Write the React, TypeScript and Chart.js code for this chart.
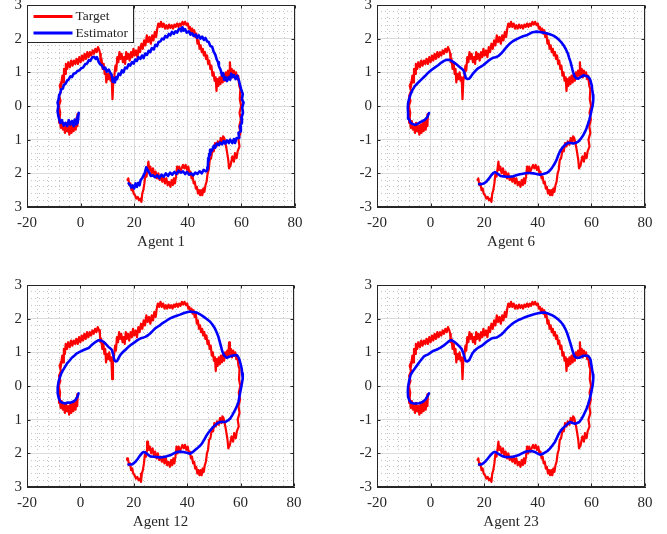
import React, { useEffect, useRef } from "react";
import { Chart, registerables } from "chart.js";

Chart.register(...registerables);

// ---------- axis settings ----------
const X_MIN = -20;
const X_MAX = 80;
const Y_MIN = -3;
const Y_MAX = 3;
const X_MAJOR_STEP = 20;
const X_MINOR_STEP = 4;
const Y_MAJOR_STEP = 1;
const Y_MINOR_STEP = 0.2;

const seriesLabels = ["Target", "Estimator"];
const panelTitles = ["Agent 1", "Agent 6", "Agent 12", "Agent 23"];

// ---------- data ----------
const targetPath: [number, number][] = [
  [-1.0, -0.25], [-1.2, -0.6], [-1.5, -0.35], [-1.8, -0.7], [-2.2, -0.45], [-2.6, -0.75], [-3.0, -0.5], [-3.4, -0.8],
  [-3.8, -0.55], [-4.2, -0.85], [-4.6, -0.6], [-5.0, -0.75], [-5.4, -0.5], [-5.8, -0.8], [-6.2, -0.55], [-6.6, -0.7],
  [-7.0, -0.45], [-7.4, -0.65], [-7.8, -0.35], [-8.0, -0.5], [-7.6, -0.2], [-8.1, 0.0], [-7.5, 0.15], [-8.0, 0.3],
  [-7.3, 0.45], [-7.8, 0.6], [-7.0, 0.75], [-7.4, 0.55], [-6.8, 0.9], [-6.5, 0.7], [-6.2, 1.1], [-5.8, 0.95],
  [-5.5, 1.25], [-5.0, 1.1], [-4.6, 1.3], [-4.0, 1.15], [-3.5, 1.35], [-3.0, 1.2], [-2.5, 1.35], [-2.0, 1.25],
  [-1.5, 1.4], [-1.0, 1.25], [-0.5, 1.45], [0.0, 1.3], [0.5, 1.5], [1.0, 1.35], [1.5, 1.55], [2.0, 1.4],
  [2.5, 1.6], [3.0, 1.45], [3.5, 1.6], [4.0, 1.5], [4.5, 1.65], [5.0, 1.55], [5.5, 1.7], [6.0, 1.6],
  [6.5, 1.75], [7.0, 1.65], [7.3, 1.55], [7.5, 1.3], [7.8, 1.4], [8.2, 1.1], [8.6, 1.25], [9.0, 0.95],
  [9.3, 1.1], [9.6, 0.7], [10.0, 0.95], [10.4, 0.8], [10.8, 1.0], [11.2, 0.75], [11.6, 0.85], [11.9, 0.2],
  [12.2, 0.75], [12.6, 0.9], [13.0, 1.2], [13.3, 1.05], [13.7, 1.45], [14.1, 1.3], [14.5, 1.6], [14.9, 1.4],
  [15.3, 1.55], [15.8, 1.3], [16.2, 1.45], [16.6, 1.25], [17.0, 1.6], [17.4, 1.4], [17.8, 1.55], [18.3, 1.35],
  [18.8, 1.6], [19.3, 1.45], [19.7, 1.7], [20.2, 1.5], [20.7, 1.65], [21.2, 1.45], [21.7, 1.75], [22.2, 1.6],
  [22.7, 1.85], [23.2, 1.7], [23.7, 1.95], [24.2, 1.8], [24.7, 2.1], [25.2, 1.9], [25.7, 2.05], [26.2, 1.85],
  [26.7, 2.1], [27.2, 1.95], [27.7, 2.2], [28.2, 2.05], [28.6, 2.3], [29.0, 2.45], [29.5, 2.35], [30.0, 2.5],
  [30.5, 2.35], [31.0, 2.45], [31.5, 2.3], [32.0, 2.4], [32.5, 2.3], [33.0, 2.42], [33.5, 2.32], [34.0, 2.4],
  [34.5, 2.3], [35.0, 2.42], [35.5, 2.35], [36.0, 2.45], [36.5, 2.35], [37.0, 2.45], [37.5, 2.38], [38.0, 2.5],
  [38.5, 2.42], [39.0, 2.5], [39.5, 2.4], [40.0, 2.45], [40.4, 2.3], [40.8, 2.35], [41.2, 2.2], [41.6, 2.3],
  [42.0, 2.15], [42.4, 2.25], [42.8, 2.05], [43.2, 2.15], [43.6, 1.85], [44.0, 1.95], [44.4, 1.7], [44.8, 1.8],
  [45.2, 1.6], [45.6, 1.7], [46.0, 1.5], [46.4, 1.6], [46.8, 1.4], [47.2, 1.5], [47.6, 1.25], [48.0, 1.35],
  [48.4, 1.1], [48.8, 1.2], [49.2, 0.9], [49.6, 1.0], [50.0, 0.75], [50.4, 0.85], [50.7, 0.45], [51.0, 0.8],
  [51.4, 0.6], [51.8, 0.85], [52.2, 0.65], [52.6, 0.9], [53.0, 0.7], [53.4, 0.95], [53.8, 0.75], [54.2, 1.0],
  [54.6, 0.85], [55.0, 1.05], [55.4, 0.9], [55.7, 1.3], [56.0, 0.95], [56.4, 1.1], [56.8, 0.85], [57.2, 1.05],
  [57.6, 0.9], [58.0, 1.0], [58.4, 0.8], [58.8, 0.9], [59.2, 0.6], [59.6, 0.5], [59.4, 0.2], [59.9, 0.0],
  [59.3, -0.2], [59.8, -0.4], [59.2, -0.6], [59.6, -0.8], [58.9, -1.0], [59.3, -1.2], [58.6, -1.35], [58.2, -1.55],
  [57.6, -1.4], [57.2, -1.65], [56.6, -1.5], [56.0, -1.75], [55.4, -1.85], [55.1, -1.6], [54.7, -1.4], [54.4, -1.25],
  [54.0, -1.1], [53.6, -0.95], [53.2, -0.9], [52.8, -1.1], [52.3, -0.95], [51.8, -1.15], [51.2, -1.05], [50.7, -1.2],
  [50.2, -1.1], [49.7, -1.35], [49.2, -1.3], [48.7, -1.55], [48.2, -1.6], [47.8, -1.9], [47.4, -2.0], [47.0, -2.25],
  [46.6, -2.35], [46.2, -2.55], [45.8, -2.45], [45.4, -2.65], [45.0, -2.5], [44.6, -2.65], [44.2, -2.5], [43.8, -2.6],
  [43.4, -2.4], [43.0, -2.45], [42.6, -2.25], [42.2, -2.3], [41.8, -2.1], [41.4, -2.15], [41.0, -1.95], [40.6, -2.0],
  [40.2, -1.8], [39.7, -1.9], [39.2, -1.75], [38.7, -1.85], [38.2, -1.75], [37.7, -1.85], [37.2, -1.95], [36.8, -1.8],
  [36.4, -2.0], [36.0, -1.8], [35.6, -2.1], [35.2, -2.3], [34.8, -2.15], [34.4, -2.35], [34.0, -2.2], [33.5, -2.4],
  [33.0, -2.25], [32.5, -2.35], [32.0, -2.15], [31.5, -2.3], [31.0, -2.1], [30.5, -2.25], [30.0, -2.1], [29.5, -2.2],
  [29.0, -2.0], [28.5, -2.15], [28.0, -1.95], [27.5, -2.05], [27.0, -1.85], [26.5, -2.0], [26.0, -1.8], [25.6, -1.9],
  [25.3, -1.65], [25.0, -1.85], [24.6, -2.1], [24.2, -2.0], [23.8, -2.3], [23.4, -2.5], [23.0, -2.6], [22.7, -2.85],
  [22.3, -2.75], [21.8, -2.8], [21.3, -2.7], [20.8, -2.75], [20.3, -2.65], [19.8, -2.6], [19.4, -2.45], [19.0, -2.5],
  [18.6, -2.3], [18.2, -2.35], [17.8, -2.15], [17.5, -2.2],
];

const estimatorAgent1: [number, number][] = [
  [-0.7, -0.2], [-1.0, -0.45], [-0.8, -0.25], [-1.3, -0.5], [-1.1, -0.3], [-1.6, -0.55], [-2.2, -0.4], [-2.6, -0.6],
  [-3.2, -0.45], [-3.8, -0.55], [-4.4, -0.42], [-5.0, -0.6], [-5.7, -0.5], [-6.3, -0.58], [-7.0, -0.42], [-7.6, -0.5],
  [-8.3, -0.3], [-8.6, -0.15], [-8.3, 0.0], [-8.6, 0.1], [-8.2, 0.2], [-8.0, 0.32], [-7.6, 0.38], [-7.2, 0.5],
  [-6.6, 0.52], [-6.3, 0.62], [-5.6, 0.66], [-5.0, 0.76], [-4.5, 0.78], [-3.8, 0.88], [-3.2, 0.86], [-2.6, 0.96],
  [-1.8, 0.98], [-1.2, 1.04], [-0.4, 1.06], [0.2, 1.12], [0.9, 1.14], [1.7, 1.24], [2.4, 1.26], [3.1, 1.36],
  [3.6, 1.34], [4.3, 1.44], [5.1, 1.46], [5.6, 1.4], [6.1, 1.45], [6.8, 1.3], [7.3, 1.24], [8.0, 1.2],
  [8.6, 1.1], [9.2, 1.14], [9.8, 1.02], [10.5, 1.08], [11.1, 0.98], [11.6, 0.92], [12.0, 0.72], [12.3, 0.82],
  [12.8, 0.7], [13.2, 0.86], [13.6, 0.8], [14.2, 0.96], [14.8, 0.92], [15.4, 1.06], [16.0, 1.0], [16.6, 1.14],
  [17.3, 1.12], [17.9, 1.24], [18.5, 1.2], [19.2, 1.3], [19.8, 1.26], [20.4, 1.38], [21.0, 1.34], [21.6, 1.45],
  [22.3, 1.4], [22.9, 1.5], [23.5, 1.42], [24.1, 1.56], [24.8, 1.52], [25.4, 1.64], [26.0, 1.6], [26.6, 1.72],
  [27.3, 1.68], [27.9, 1.82], [28.5, 1.78], [29.1, 1.9], [29.8, 1.92], [30.4, 2.0], [31.0, 1.98], [31.6, 2.08],
  [32.3, 2.04], [32.9, 2.14], [33.5, 2.1], [34.1, 2.2], [34.8, 2.14], [35.4, 2.22], [36.0, 2.18], [36.6, 2.28],
  [37.2, 2.3], [37.6, 2.22], [38.0, 2.34], [38.5, 2.24], [39.0, 2.28], [39.6, 2.18], [40.4, 2.22], [41.0, 2.12],
  [41.6, 2.16], [42.2, 2.08], [42.9, 2.12], [43.5, 2.02], [44.1, 2.1], [44.7, 2.0], [45.4, 2.06], [46.0, 1.96],
  [46.6, 2.02], [47.2, 1.92], [47.8, 1.9], [48.4, 1.78], [49.1, 1.76], [49.6, 1.62], [50.3, 1.52], [50.8, 1.38],
  [51.3, 1.3], [51.6, 1.18], [52.2, 1.08], [52.8, 0.9], [53.2, 0.98], [53.6, 0.78], [54.1, 0.86], [54.6, 0.74],
  [55.3, 0.86], [55.8, 0.78], [56.2, 0.96], [56.6, 0.86], [57.2, 0.92], [57.8, 0.8], [58.4, 0.9], [59.1, 0.75],
  [59.5, 0.62], [59.9, 0.5], [60.5, 0.35], [60.2, 0.2], [60.8, 0.1], [60.3, -0.05], [60.6, -0.2], [60.0, -0.35],
  [60.2, -0.5], [59.5, -0.6], [59.8, -0.75], [58.9, -0.8], [59.2, -0.95], [58.2, -0.95], [57.6, -1.1], [57.2, -0.98],
  [56.6, -1.1], [55.8, -1.0], [55.3, -1.1], [54.6, -1.02], [54.0, -1.12], [53.4, -1.04], [52.8, -1.14], [52.0, -1.08],
  [51.6, -1.16], [50.8, -1.12], [50.2, -1.24], [49.7, -1.18], [49.1, -1.32], [48.6, -1.3], [48.3, -1.46], [48.0, -1.42],
  [47.8, -1.62], [47.6, -1.55], [47.5, -1.82], [47.3, -1.9], [46.8, -1.94], [45.9, -1.9], [45.2, -2.0], [44.4, -1.94],
  [43.6, -2.02], [42.8, -1.98], [42.0, -2.06], [41.3, -2.0], [40.5, -2.04], [39.7, -1.96], [39.0, -2.02], [38.2, -1.94],
  [37.4, -1.98], [36.6, -1.92], [35.8, -2.02], [35.0, -1.96], [34.2, -2.04], [33.4, -1.98], [32.6, -2.08], [31.8, -2.0],
  [31.0, -2.1], [30.2, -2.04], [29.4, -2.14], [28.6, -2.06], [27.8, -2.12], [27.0, -2.06], [26.2, -2.08], [25.6, -1.98],
  [25.0, -1.9], [24.5, -1.82], [24.0, -1.98], [23.5, -2.06], [23.0, -2.14], [22.4, -2.2], [22.0, -2.35], [21.5, -2.28],
  [21.0, -2.4], [20.5, -2.3], [20.0, -2.45], [19.4, -2.36], [18.9, -2.42], [18.4, -2.34], [17.9, -2.3],
];

const estimatorAgent6: [number, number][] = [
  [-0.6, -0.21], [-1.2, -0.33], [-2.2, -0.41], [-3.1, -0.45], [-4.1, -0.49], [-5.0, -0.54], [-5.9, -0.56], [-6.8, -0.53],
  [-7.5, -0.49], [-8.1, -0.38], [-8.4, -0.21], [-8.5, -0.06], [-8.4, 0.09], [-8.0, 0.22], [-7.5, 0.34], [-6.8, 0.47],
  [-5.9, 0.59], [-4.7, 0.69], [-3.4, 0.79], [-2.1, 0.89], [-0.9, 0.99], [0.3, 1.07], [1.5, 1.14], [2.8, 1.21],
  [4.0, 1.29], [5.0, 1.34], [5.9, 1.37], [6.9, 1.37], [7.8, 1.34], [8.8, 1.29], [9.6, 1.24], [10.4, 1.19],
  [11.1, 1.14], [11.9, 1.09], [12.4, 1.04], [12.8, 0.94], [13.1, 0.84], [13.7, 0.8], [14.4, 0.81], [15.1, 0.88],
  [15.9, 0.97], [16.8, 1.05], [17.7, 1.12], [18.6, 1.16], [19.6, 1.21], [20.6, 1.28], [21.5, 1.34], [22.4, 1.39],
  [23.3, 1.43], [24.3, 1.45], [25.2, 1.48], [26.2, 1.55], [27.1, 1.63], [28.0, 1.72], [28.9, 1.8], [29.8, 1.87],
  [30.8, 1.93], [32.0, 1.98], [33.3, 2.03], [34.5, 2.07], [35.8, 2.1], [36.8, 2.14], [37.7, 2.18], [38.6, 2.2],
  [39.5, 2.21], [40.8, 2.2], [42.0, 2.18], [43.3, 2.16], [44.5, 2.13], [45.8, 2.09], [47.0, 2.03], [48.0, 1.96],
  [48.9, 1.88], [49.8, 1.78], [50.5, 1.68], [51.2, 1.56], [51.7, 1.43], [52.2, 1.31], [52.6, 1.19], [52.9, 1.09],
  [53.2, 1.0], [53.8, 0.87], [54.4, 0.82], [55.1, 0.81], [56.0, 0.86], [57.0, 0.91], [58.0, 0.89], [58.8, 0.87],
  [59.3, 0.82], [59.7, 0.74], [60.1, 0.62], [60.3, 0.49], [60.6, 0.33], [60.7, 0.18], [60.5, 0.03], [60.1, -0.11],
  [59.7, -0.26], [59.2, -0.41], [58.7, -0.54], [58.2, -0.66], [57.6, -0.77], [57.0, -0.86], [56.1, -0.97], [55.1, -1.06],
  [54.1, -1.1], [53.2, -1.11], [52.3, -1.1], [51.4, -1.09], [50.4, -1.14], [49.5, -1.21], [48.8, -1.28], [48.2, -1.36],
  [47.6, -1.47], [47.0, -1.6], [46.1, -1.74], [45.1, -1.86], [44.2, -1.94], [43.3, -1.99], [42.0, -2.02], [40.8, -2.04],
  [39.5, -2.02], [38.3, -2.0], [37.0, -1.99], [35.8, -1.99], [34.5, -2.01], [33.3, -2.03], [32.0, -2.06], [30.8, -2.09],
  [29.5, -2.1], [28.3, -2.1], [27.2, -2.09], [26.1, -2.08], [25.3, -2.03], [24.6, -1.99], [24.0, -1.96], [23.4, -1.99],
  [22.7, -2.05], [21.8, -2.15], [20.8, -2.25], [19.9, -2.3], [19.0, -2.32], [18.1, -2.32],
];

const estimatorAgent12: [number, number][] = [
  [-0.7, -0.22], [-1.1, -0.32], [-1.9, -0.42], [-2.8, -0.47], [-3.8, -0.5], [-4.7, -0.49], [-5.7, -0.52], [-6.6, -0.5],
  [-7.5, -0.47], [-8.1, -0.36], [-8.5, -0.22], [-8.5, -0.04], [-8.2, 0.12], [-7.7, 0.26], [-6.9, 0.42], [-6.0, 0.54],
  [-5.0, 0.67], [-4.1, 0.75], [-3.2, 0.84], [-2.3, 0.9], [-1.3, 0.97], [-0.1, 1.02], [1.2, 1.07], [2.1, 1.1],
  [3.1, 1.13], [4.0, 1.2], [4.9, 1.26], [5.9, 1.32], [6.8, 1.36], [7.8, 1.35], [8.7, 1.31], [9.6, 1.24],
  [10.5, 1.16], [11.2, 1.12], [11.8, 1.07], [12.3, 0.92], [12.7, 0.77], [13.2, 0.73], [13.7, 0.74], [14.3, 0.83],
  [14.9, 0.92], [15.8, 1.0], [16.8, 1.07], [17.7, 1.14], [18.7, 1.21], [19.6, 1.26], [20.5, 1.31], [21.5, 1.37],
  [22.4, 1.41], [23.3, 1.43], [24.3, 1.46], [25.2, 1.5], [26.1, 1.56], [27.0, 1.63], [28.0, 1.71], [28.9, 1.76],
  [29.9, 1.81], [30.8, 1.87], [31.7, 1.91], [32.6, 1.96], [33.6, 2.01], [34.8, 2.05], [36.1, 2.09], [37.3, 2.12],
  [38.6, 2.16], [39.8, 2.19], [41.1, 2.21], [42.3, 2.2], [43.6, 2.18], [44.8, 2.13], [46.1, 2.06], [47.3, 1.99],
  [48.6, 1.91], [49.5, 1.82], [50.4, 1.71], [51.1, 1.58], [51.7, 1.46], [52.2, 1.31], [52.7, 1.16], [53.1, 1.04],
  [53.6, 0.94], [54.2, 0.88], [54.8, 0.84], [55.7, 0.87], [56.7, 0.9], [57.6, 0.91], [58.6, 0.92], [59.2, 0.85],
  [59.6, 0.77], [60.0, 0.65], [60.4, 0.52], [60.6, 0.37], [60.8, 0.22], [60.4, 0.04], [60.0, -0.13], [59.6, -0.3],
  [59.2, -0.47], [58.6, -0.6], [57.9, -0.72], [57.0, -0.85], [56.1, -0.97], [55.1, -1.03], [54.2, -1.07], [53.2, -1.06],
  [52.3, -1.07], [51.3, -1.11], [50.4, -1.17], [49.6, -1.23], [48.8, -1.3], [48.0, -1.38], [47.3, -1.46], [46.4, -1.59],
  [45.5, -1.71], [44.6, -1.79], [43.6, -1.86], [42.4, -1.94], [41.1, -2.01], [39.8, -1.98], [38.6, -1.96], [37.3, -1.95],
  [36.1, -1.96], [34.8, -2.01], [33.6, -2.06], [32.3, -2.09], [31.1, -2.11], [29.8, -2.12], [28.6, -2.11], [27.3, -2.1],
  [26.1, -2.09], [25.5, -2.05], [24.9, -2.01], [24.2, -1.97], [23.6, -1.96], [23.0, -2.0], [22.4, -2.06], [21.5, -2.16],
  [20.5, -2.26], [19.9, -2.3], [19.3, -2.33], [18.6, -2.33], [18.0, -2.33],
];

const estimatorAgent23: [number, number][] = [
  [-0.6, -0.22], [-1.2, -0.31], [-1.8, -0.39], [-2.6, -0.45], [-3.4, -0.49], [-4.3, -0.51], [-5.3, -0.52], [-6.3, -0.52],
  [-7.2, -0.5], [-7.9, -0.43], [-8.4, -0.32], [-8.5, -0.17], [-8.4, -0.02], [-8.0, 0.16], [-7.5, 0.32], [-6.8, 0.42],
  [-5.9, 0.52], [-5.0, 0.62], [-4.1, 0.72], [-3.3, 0.8], [-2.6, 0.87], [-1.8, 0.91], [-0.9, 0.94], [0.0, 0.99],
  [0.9, 1.04], [1.9, 1.07], [2.8, 1.1], [3.7, 1.14], [4.7, 1.19], [5.6, 1.25], [6.5, 1.31], [7.2, 1.35],
  [7.8, 1.36], [8.7, 1.32], [9.6, 1.26], [10.6, 1.19], [11.5, 1.11], [12.0, 1.02], [12.4, 0.92], [12.8, 0.82],
  [13.1, 0.74], [13.7, 0.73], [14.4, 0.77], [15.0, 0.87], [15.6, 0.97], [16.3, 1.04], [17.1, 1.1], [18.0, 1.15],
  [19.0, 1.19], [19.9, 1.25], [20.8, 1.31], [21.8, 1.36], [22.7, 1.41], [23.7, 1.43], [24.6, 1.44], [25.5, 1.48],
  [26.4, 1.53], [27.4, 1.61], [28.3, 1.69], [29.2, 1.76], [30.2, 1.83], [31.4, 1.9], [32.7, 1.96], [34.0, 2.0],
  [35.2, 2.04], [36.5, 2.08], [37.7, 2.11], [38.9, 2.14], [40.1, 2.16], [41.4, 2.18], [42.6, 2.18], [43.9, 2.15],
  [45.1, 2.11], [46.4, 2.05], [47.6, 1.98], [48.6, 1.9], [49.5, 1.81], [50.3, 1.69], [51.0, 1.56], [51.5, 1.44],
  [52.0, 1.31], [52.5, 1.18], [52.9, 1.06], [53.4, 0.95], [53.9, 0.86], [54.7, 0.84], [55.5, 0.84], [56.3, 0.87],
  [57.0, 0.9], [57.9, 0.9], [58.8, 0.89], [59.3, 0.84], [59.7, 0.77], [60.0, 0.62], [60.3, 0.47], [60.6, 0.34],
  [60.7, 0.22], [60.5, 0.04], [60.1, -0.13], [59.7, -0.28], [59.2, -0.43], [58.7, -0.56], [58.2, -0.68], [57.6, -0.78],
  [57.0, -0.88], [56.3, -0.98], [55.5, -1.07], [54.7, -1.1], [53.9, -1.12], [53.0, -1.1], [52.0, -1.07], [51.2, -1.12],
  [50.5, -1.17], [49.7, -1.23], [48.9, -1.29], [48.2, -1.37], [47.6, -1.46], [47.0, -1.56], [46.4, -1.66], [45.5, -1.76],
  [44.5, -1.86], [43.6, -1.93], [42.6, -1.98], [41.7, -2.02], [40.8, -2.04], [39.8, -2.0], [38.9, -1.96], [38.0, -1.94],
  [37.0, -1.93], [36.1, -1.94], [35.2, -1.96], [33.9, -2.01], [32.7, -2.06], [31.4, -2.09], [30.2, -2.11], [29.0, -2.11],
  [27.7, -2.11], [26.7, -2.08], [25.8, -2.04], [25.0, -2.0], [24.3, -1.96], [23.8, -1.96], [23.3, -1.98], [22.5, -2.04],
  [21.8, -2.11], [21.0, -2.19], [20.2, -2.26], [19.6, -2.3], [19.0, -2.33], [18.1, -2.33],
];

const estimatorSeries = [estimatorAgent1, estimatorAgent6, estimatorAgent12, estimatorAgent23];

// ---------- style ----------
const FONT_FAMILY = "'Liberation Serif', 'Times New Roman', serif";
const AXIS_COLOR = "#262626";
const TARGET_COLOR = "#ff0000";
const ESTIMATOR_COLOR = "#0000ff";

type Layout = {
  left: number;
  top: number;
  width: number;
  height: number;
  padTop: number;
  axisWidth: number;
  padRight: number;
  absLabels: boolean;
  legend: boolean;
};

const layouts: Layout[] = [
  { left: 0, top: 0, width: 320, height: 254, padTop: 5, axisWidth: 27, padRight: 25, absLabels: true, legend: true },
  { left: 340, top: 0, width: 327, height: 254, padTop: 5, axisWidth: 37, padRight: 22, absLabels: false, legend: false },
  { left: 0, top: 266, width: 320, height: 268, padTop: 19, axisWidth: 27, padRight: 26, absLabels: true, legend: false },
  { left: 340, top: 266, width: 327, height: 268, padTop: 19, axisWidth: 37, padRight: 22, absLabels: false, legend: false },
];

const isInt = (v: number) => Math.abs(v - Math.round(v)) < 1e-6;

const boxPlugin = {
  id: "matlabBox",
  afterDatasetsDraw(chart: any) {
    const { ctx, chartArea } = chart;
    const l = Math.round(chartArea.left) + 0.5;
    const r = Math.round(chartArea.right) - 0.5;
    const t = Math.round(chartArea.top) + 0.5;
    const b = Math.round(chartArea.bottom) - 0.5;
    ctx.save();
    ctx.strokeStyle = AXIS_COLOR;
    ctx.lineWidth = 1;
    ctx.strokeRect(l, t, r - l, b - t);
    const xs = chart.scales.x;
    const ys = chart.scales.y;
    ctx.beginPath();
    xs.ticks.forEach((tk: any) => {
      const p = Math.round(xs.getPixelForValue(tk.value)) + 0.5;
      ctx.moveTo(p, b);
      ctx.lineTo(p, b - 3);
      ctx.moveTo(p, t);
      ctx.lineTo(p, t + 3);
    });
    ys.ticks.forEach((tk: any) => {
      const p = Math.round(ys.getPixelForValue(tk.value)) + 0.5;
      ctx.moveTo(l, p);
      ctx.lineTo(l + 3, p);
      ctx.moveTo(r, p);
      ctx.lineTo(r - 3, p);
    });
    ctx.stroke();
    ctx.restore();
  },
};

const legendPlugin = {
  id: "matlabLegend",
  afterDraw(chart: any) {
    const opts = chart.options.plugins.matlabLegend;
    if (!opts || !opts.show) return;
    const { ctx, chartArea } = chart;
    const x0 = Math.round(chartArea.left) + 0.5;
    const y0 = Math.round(chartArea.top) + 0.5;
    const w = 106;
    const h = 37;
    ctx.save();
    ctx.fillStyle = "#ffffff";
    ctx.fillRect(x0, y0, w, h);
    ctx.strokeStyle = AXIS_COLOR;
    ctx.lineWidth = 1;
    ctx.strokeRect(x0, y0, w, h);
    ctx.font = `13.5px ${FONT_FAMILY}`;
    ctx.textBaseline = "middle";
    ctx.textAlign = "left";
    const order = [1, 0];
    order.forEach((dsIndex, i) => {
      const ds = chart.data.datasets[dsIndex];
      const yy = y0 + 11 + i * 16.5;
      ctx.strokeStyle = ds.borderColor;
      ctx.lineWidth = 3;
      ctx.beginPath();
      ctx.moveTo(x0 + 6, yy);
      ctx.lineTo(x0 + 45, yy);
      ctx.stroke();
      ctx.fillStyle = AXIS_COLOR;
      ctx.fillText(ds.label, x0 + 48, yy);
    });
    ctx.restore();
  },
};

function Panel({ index }: { index: number }) {
  const ref = useRef<HTMLCanvasElement | null>(null);
  const lay = layouts[index];

  useEffect(() => {
    if (!ref.current) return;
    const tickFont = { family: FONT_FAMILY, size: 15 };
    const chart = new Chart(ref.current, {
      type: "scatter",
      data: {
        datasets: [
          {
            label: seriesLabels[1],
            data: estimatorSeries[index].map(([x, y]) => ({ x, y })),
            borderColor: ESTIMATOR_COLOR,
            backgroundColor: ESTIMATOR_COLOR,
            borderWidth: 2.6,
            showLine: true,
            pointRadius: 0,
            tension: 0,
            borderJoinStyle: "round",
            borderCapStyle: "round",
            order: 0,
          },
          {
            label: seriesLabels[0],
            data: targetPath.map(([x, y]) => ({ x, y })),
            borderColor: TARGET_COLOR,
            backgroundColor: TARGET_COLOR,
            borderWidth: 2.2,
            showLine: true,
            pointRadius: 0,
            tension: 0,
            borderJoinStyle: "round",
            borderCapStyle: "round",
            order: 1,
          },
        ],
      },
      options: {
        animation: false,
        responsive: false,
        events: [],
        layout: { padding: { top: lay.padTop, right: lay.padRight, left: 0, bottom: 0 } },
        plugins: {
          legend: { display: false },
          tooltip: { enabled: false },
          // @ts-ignore
          matlabLegend: { show: lay.legend },
        },
        scales: {
          xMinor: {
            type: "linear",
            position: "bottom",
            min: X_MIN,
            max: X_MAX,
            z: -1,
            ticks: { display: false, stepSize: X_MINOR_STEP, autoSkip: false },
            grid: { color: "#c4c4c4", lineWidth: 1, drawTicks: false },
            border: { display: false, dash: [1, 3] },
            afterFit: (s: any) => {
              s.height = 0;
              s.paddingLeft = 0;
              s.paddingRight = 0;
            },
          },
          yMinor: {
            type: "linear",
            position: "left",
            min: Y_MIN,
            max: Y_MAX,
            z: -1,
            ticks: { display: false, stepSize: Y_MINOR_STEP, autoSkip: false },
            grid: { color: "#c4c4c4", lineWidth: 1, drawTicks: false },
            border: { display: false, dash: [1, 3] },
            afterFit: (s: any) => {
              s.width = 0;
              s.paddingTop = 0;
              s.paddingBottom = 0;
            },
          },
          x: {
            type: "linear",
            position: "bottom",
            min: X_MIN,
            max: X_MAX,
            ticks: {
              stepSize: X_MAJOR_STEP,
              autoSkip: false,
              maxRotation: 0,
              font: tickFont,
              color: AXIS_COLOR,
              padding: 7,
              callback: (v: any) => String(Math.round(Number(v))),
            },
            grid: { color: "#dcdcdc", lineWidth: 1, drawTicks: false },
            border: { color: AXIS_COLOR, width: 1 },
            title: {
              display: true,
              text: panelTitles[index],
              font: { family: FONT_FAMILY, size: 15 },
              color: AXIS_COLOR,
              padding: { top: 0, bottom: 3 },
            },
            afterFit: (s: any) => {
              s.height = 47;
              s.paddingLeft = 0;
              s.paddingRight = 0;
            },
          },
          y: {
            type: "linear",
            position: "left",
            min: Y_MIN,
            max: Y_MAX,
            ticks: {
              stepSize: Y_MAJOR_STEP,
              autoSkip: false,
              font: tickFont,
              color: AXIS_COLOR,
              padding: 5,
              callback: (v: any) => {
                const n = Number(v);
                if (!isInt(n)) return "";
                const r = Math.round(n);
                return String(lay.absLabels ? Math.abs(r) : r);
              },
            },
            grid: { color: "#dcdcdc", lineWidth: 1, drawTicks: false },
            border: { color: AXIS_COLOR, width: 1 },
            afterFit: (s: any) => {
              s.width = lay.axisWidth;
              s.paddingTop = 0;
              s.paddingBottom = 0;
            },
          },
        },
      } as any,
      plugins: [boxPlugin, legendPlugin],
    });
    return () => chart.destroy();
  }, [index]);

  return (
    <canvas
      ref={ref}
      width={lay.width}
      height={lay.height}
      style={{
        position: "absolute",
        left: lay.left,
        top: lay.top,
        width: lay.width,
        height: lay.height,
      }}
    />
  );
}

export default function App() {
  return (
    <div
      style={{
        position: "fixed",
        left: 0,
        top: 0,
        width: 667,
        height: 534,
        background: "#ffffff",
        overflow: "hidden",
      }}
    >
      {[0, 1, 2, 3].map((i) => (
        <Panel key={i} index={i} />
      ))}
    </div>
  );
}
